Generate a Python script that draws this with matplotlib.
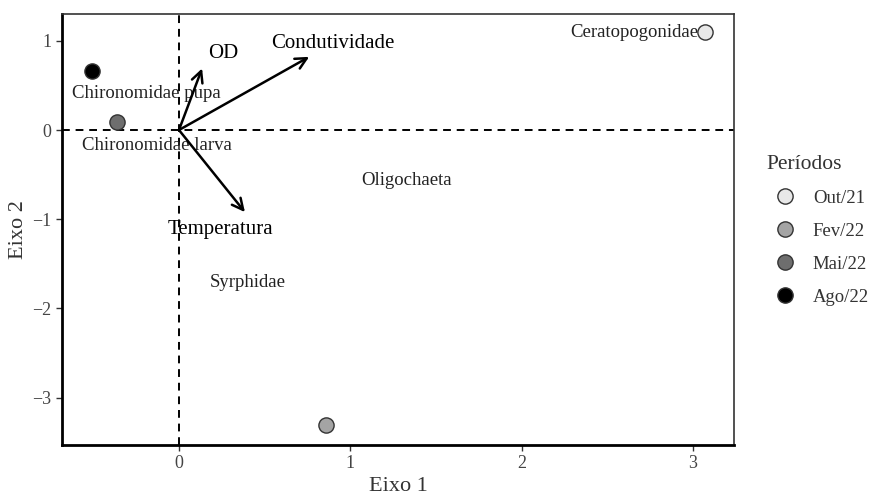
import matplotlib
matplotlib.use("Agg")
import matplotlib.pyplot as plt
from matplotlib.lines import Line2D

plt.rcParams['font.family'] = ['Liberation Serif', 'DejaVu Serif']

# sample scores (periods)
periods = ["Out/21", "Fev/22", "Mai/22", "Ago/22"]
period_colors = ["#e8e8e8", "#a4a4a4", "#6e6e6e", "#000000"]
site_x = [3.07, 0.86, -0.36, -0.51]
site_y = [1.10, -3.31, 0.09, 0.66]

# taxa labels
taxa = ["Chironomidae pupa", "Chironomidae larva", "Ceratopogonidae",
        "Oligochaeta", "Syrphidae"]
taxa_x = [-0.19, -0.13, 2.66, 1.33, 0.40]
taxa_y = [0.41, -0.17, 1.09, -0.57, -1.71]

# environmental vectors
env_vars = ["OD", "Condutividade", "Temperatura"]
env_x = [0.135, 0.76, 0.385]
env_y = [0.69, 0.82, -0.92]
env_lab_x = [0.26, 0.90, 0.24]
env_lab_y = [0.86, 0.97, -1.11]

fig = plt.figure(figsize=(8.69, 4.95), dpi=100)
ax = fig.add_axes([0.0713, 0.101, 0.7734, 0.8707])

ax.axhline(0, color="black", ls=(0, (4, 3)), lw=1.4, zorder=1)
ax.axvline(0, color="black", ls=(0, (4, 3)), lw=1.4, zorder=1)

for name, tx, ty in zip(taxa, taxa_x, taxa_y):
    ax.text(tx, ty, name, ha="center", va="center", fontsize=13.5,
            color="#222222", zorder=2)

for name, vx, vy, lx, ly in zip(env_vars, env_x, env_y, env_lab_x, env_lab_y):
    ax.annotate("", xy=(vx, vy), xytext=(0, 0),
                arrowprops=dict(arrowstyle="->", lw=1.8, color="black",
                                mutation_scale=20, shrinkA=0, shrinkB=0),
                zorder=3)
    ax.text(lx, ly, name, ha="center", va="center", fontsize=15,
            color="black", zorder=3)

for c, sx, sy in zip(period_colors, site_x, site_y):
    ax.scatter(sx, sy, s=120, c=c, edgecolors="#333333", linewidths=1.0,
               zorder=4)

ax.set_xlim(-0.683, 3.24)
ax.set_ylim(-3.53, 1.30)
ax.set_xticks([0, 1, 2, 3])
ax.set_yticks([-3, -2, -1, 0, 1])
ax.set_yticklabels(["\u22123", "\u22122", "\u22121", "0", "1"])
ax.tick_params(axis="both", direction="out", length=4, width=1,
               labelsize=13, colors="#333333", labelcolor="#444444")

for side in ["left", "bottom"]:
    ax.spines[side].set_linewidth(2.0)
    ax.spines[side].set_color("black")
for side in ["top", "right"]:
    ax.spines[side].set_linewidth(1.2)
    ax.spines[side].set_color("#333333")

ax.set_xlabel("Eixo 1", fontsize=16, color="#333333", labelpad=3)
ax.set_ylabel("Eixo 2", fontsize=16, color="#333333", labelpad=3)

handles = [Line2D([], [], ls="none", marker="o", markersize=11,
                  markerfacecolor=c, markeredgecolor="#333333",
                  markeredgewidth=1.0) for c in period_colors]
leg = fig.legend(handles, periods, title="Períodos", loc="center left",
                 bbox_to_anchor=(0.862, 0.535), frameon=False, fontsize=13.5,
                 title_fontsize=15.5, handletextpad=0.5, labelspacing=0.85,
                 alignment="left")
for t in leg.get_texts():
    t.set_color("#333333")
leg.get_title().set_color("#333333")

fig.savefig("out.png", dpi=100)
